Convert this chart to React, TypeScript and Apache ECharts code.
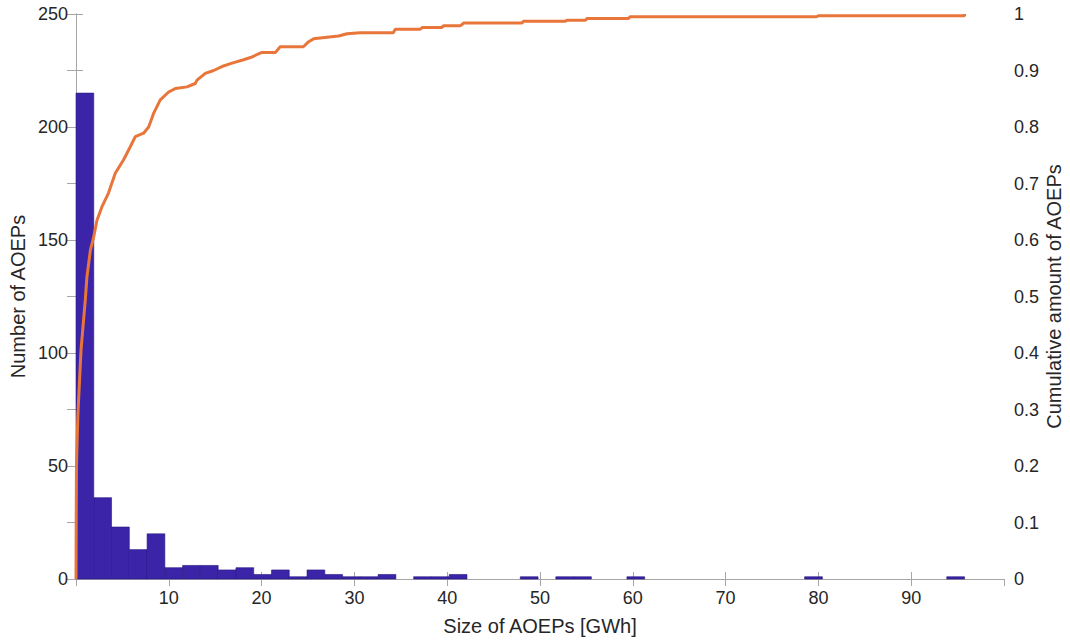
import React, { useEffect, useRef } from "react";
import * as echarts from "echarts";

// Histogram: 50 equal bins from 0 to 95.75 GWh
const binStart = 0;
const binWidth = 1.915;
const binCounts = [
  215, 36, 23, 13, 20, 5, 6, 6, 4, 5,
  2, 4, 1, 4, 2, 1, 1, 2, 0, 1,
  1, 2, 0, 0, 0, 1, 0, 1, 1, 0,
  0, 1, 0, 0, 0, 0, 0, 0, 0, 0,
  0, 1, 0, 0, 0, 0, 0, 0, 0, 1,
];

// Empirical cumulative curve [size GWh, cumulative share]
const cdfPoints: [number, number][] = [
  [0, 0], [0.02, 0.1], [0.05, 0.2], [0.2, 0.29], [0.54, 0.405], [1.0, 0.494],
  [1.18, 0.535], [1.55, 0.582], [1.9, 0.605], [2.26, 0.635], [2.8, 0.659],
  [3.5, 0.683], [4.23, 0.718], [5.13, 0.742], [5.85, 0.765], [6.39, 0.783],
  [7.28, 0.789], [7.83, 0.8], [8.36, 0.824], [9.08, 0.848], [9.98, 0.862],
  [10.7, 0.868], [11.96, 0.871], [12.85, 0.877], [13.04, 0.883], [13.93, 0.895],
  [14.83, 0.9], [15.73, 0.907], [16.81, 0.913], [18.06, 0.919], [18.8, 0.923],
  [20.04, 0.932], [21.5, 0.932], [22.0, 0.942], [24.5, 0.942], [25.07, 0.951],
  [25.6, 0.956], [27.05, 0.959], [28.3, 0.961], [29.2, 0.965], [30.6, 0.967],
  [34.2, 0.967], [34.4, 0.973], [37.1, 0.973], [37.3, 0.976], [39.4, 0.976],
  [39.6, 0.979], [41.4, 0.979], [41.8, 0.984], [48.06, 0.984], [48.2, 0.987],
  [52.7, 0.987], [52.9, 0.989], [54.9, 0.989], [55.06, 0.992], [59.5, 0.992],
  [59.7, 0.995], [79.8, 0.995], [80.0, 0.997], [95.75, 0.997], [95.75, 1],
];

const xTitle = "Size of AOEPs [GWh]";
const yLeftTitle = "Number of AOEPs";
const yRightTitle = "Cumulative amount of AOEPs";

const FONT = "'Liberation Sans', Arial, Helvetica, sans-serif";
const AXIS_GRAY = "#a6a6a6";
const TEXT = "#262626";

export default function App() {
  const ref = useRef<HTMLDivElement>(null);

  useEffect(() => {
    if (!ref.current) return;
    document.body.style.margin = "0";
    document.body.style.overflow = "hidden";
    const chart = echarts.init(ref.current, undefined, {
      renderer: "svg",
      width: 1070,
      height: 642,
    });

    const histData = binCounts.map((c, i) => [
      binStart + i * binWidth,
      binStart + (i + 1) * binWidth,
      c,
    ]);

    chart.setOption({
      animation: false,
      textStyle: { fontFamily: FONT },
      grid: {
        left: 76,
        right: 66,
        top: 14,
        bottom: 63,
        containLabel: false,
        outerBoundsMode: "none",
      },
      xAxis: [
        {
          type: "value",
          min: 0,
          max: 100,
          interval: 10,
          name: xTitle,
          nameLocation: "middle",
          nameGap: 37,
          nameMoveOverlap: false,
          nameTextStyle: { fontSize: 20, color: TEXT, fontFamily: FONT },
          axisLine: { show: true, lineStyle: { color: AXIS_GRAY, width: 1 } },
          axisTick: { show: true, inside: true, length: 7, lineStyle: { color: AXIS_GRAY } },
          axisLabel: {
            fontSize: 18,
            color: TEXT,
            margin: 10,
            showMinLabel: false,
            showMaxLabel: false,
            fontFamily: FONT,
          },
          splitLine: { show: false },
        },
        {
          type: "value",
          position: "top",
          min: 0,
          max: 100,
          interval: 10,
          axisLine: { show: true, lineStyle: { color: AXIS_GRAY, width: 1 } },
          axisTick: { show: true, inside: true, length: 7, lineStyle: { color: AXIS_GRAY } },
          axisLabel: { show: false },
          splitLine: { show: false },
        },
      ],
      yAxis: [
        {
          type: "value",
          min: 0,
          max: 250,
          interval: 25,
          name: yLeftTitle,
          nameLocation: "middle",
          nameGap: 48,
          nameMoveOverlap: false,
          nameRotate: 90,
          nameTextStyle: { fontSize: 20, color: TEXT, fontFamily: FONT },
          axisLine: { show: true, lineStyle: { color: AXIS_GRAY, width: 1 } },
          axisTick: { show: true, inside: true, length: 7, lineStyle: { color: AXIS_GRAY } },
          axisLabel: {
            fontSize: 18,
            color: TEXT,
            margin: 8,
            fontFamily: FONT,
            formatter: (v: number) => (v % 50 === 0 ? String(v) : ""),
          },
          splitLine: { show: false },
        },
        {
          type: "value",
          min: 0,
          max: 1,
          interval: 0.1,
          position: "right",
          name: yRightTitle,
          nameLocation: "middle",
          nameGap: 40,
          nameMoveOverlap: false,
          nameRotate: 90,
          nameTextStyle: { fontSize: 20, color: TEXT, fontFamily: FONT },
          axisLine: { show: true, lineStyle: { color: AXIS_GRAY, width: 1 } },
          axisTick: { show: true, inside: true, length: 9, lineStyle: { color: AXIS_GRAY } },
          axisLabel: {
            fontSize: 18,
            color: TEXT,
            margin: 10,
            fontFamily: FONT,
            formatter: (v: number) => String(Math.round(v * 10) / 10),
          },
          splitLine: { show: false },
        },
      ],
      series: [
        {
          type: "custom",
          xAxisIndex: 0,
          yAxisIndex: 0,
          data: histData,
          encode: { x: [0, 1], y: 2 },
          renderItem: (params: any, api: any) => {
            const x0 = api.value(0);
            const x1 = api.value(1);
            const c = api.value(2);
            if (!c) return null;
            const p0 = api.coord([x0, c]);
            const p1 = api.coord([x1, 0]);
            return {
              type: "rect",
              shape: { x: p0[0], y: p0[1], width: p1[0] - p0[0], height: p1[1] - p0[1] },
              style: { fill: "#3b24a8", stroke: "#2a1880", lineWidth: 0.6 },
            };
          },
          z: 2,
        },
        {
          type: "line",
          xAxisIndex: 0,
          yAxisIndex: 1,
          data: cdfPoints,
          showSymbol: false,
          symbol: "none",
          lineStyle: { color: "#e8763a", width: 3 },
          z: 3,
        },
      ],
    });

    return () => chart.dispose();
  }, []);

  return (
    <div
      ref={ref}
      style={{ width: 1070, height: 642, position: "absolute", left: 0, top: 0, background: "#fff" }}
    />
  );
}
